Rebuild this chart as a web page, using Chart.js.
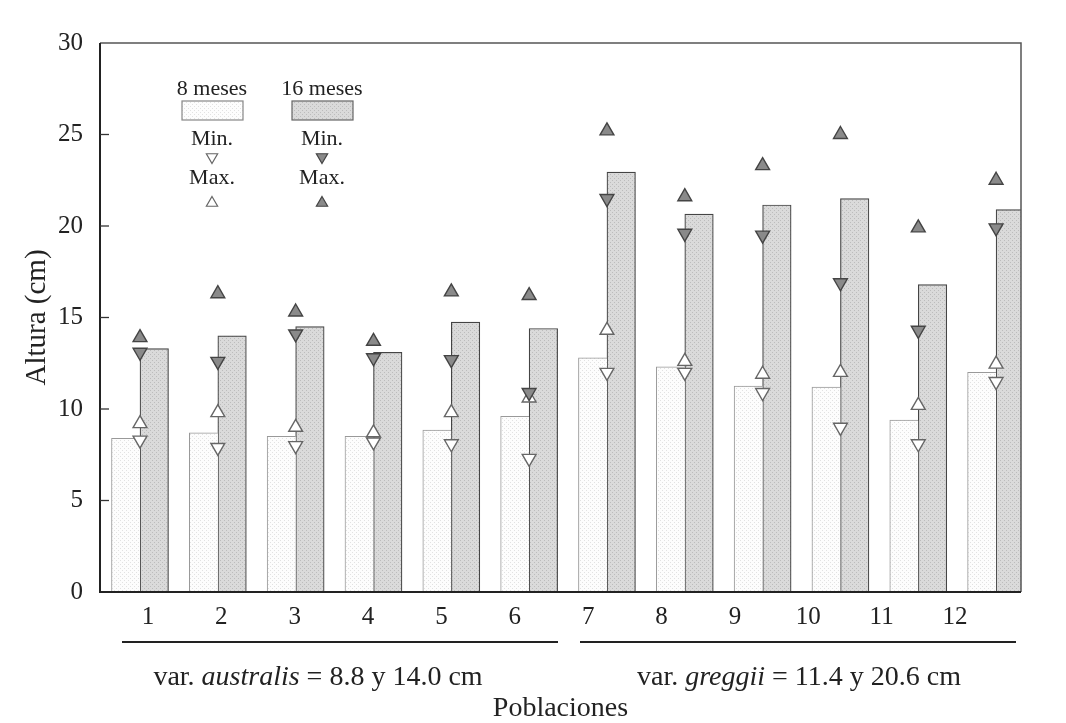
<!DOCTYPE html>
<html>
<head>
<meta charset="utf-8">
<script src="https://cdn.jsdelivr.net/npm/chart.js@4"></script>
<style>
  html, body { margin: 0; padding: 0; background: #fff; }
  canvas { display: block; }
</style>
</head>
<body>
<canvas id="chart" width="1066" height="723"></canvas>
<script>
// poblaciones 1..12
const categories = ["1", "2", "3", "4", "5", "6", "7", "8", "9", "10", "11", "12"];

// altura media (cm)
const mean8 = [8.4, 8.7, 8.5, 8.5, 8.85, 9.6, 12.8, 12.3, 11.25, 11.2, 9.4, 12.0];
const mean16 = [13.3, 14.0, 14.5, 13.1, 14.75, 14.4, 22.95, 20.65, 21.15, 21.5, 16.8, 20.9];

// minimos y maximos
const min8 = [8.3, 7.9, 8.0, 8.2, 8.1, 7.3, 12.0, 12.0, 10.9, 9.0, 8.1, 11.5];
const max8 = [9.2, 9.8, 9.0, 8.7, 9.8, 10.6, 14.3, 12.6, 11.9, 12.0, 10.2, 12.45];
const min16 = [13.1, 12.6, 14.1, 12.8, 12.7, 10.9, 21.5, 19.6, 19.5, 16.9, 14.3, 19.9];
const max16 = [13.9, 16.3, 15.3, 13.7, 16.4, 16.2, 25.2, 21.6, 23.3, 25.0, 19.9, 22.5];

const yTicks = [0, 5, 10, 15, 20, 25, 30];

const SERIF = "'Liberation Serif', 'Times New Roman', serif";
Chart.defaults.font.family = SERIF;
Chart.defaults.color = "#222";

// stippled fills like the printed bars
function dots(base, dot) {
    const c = document.createElement("canvas");
    c.width = 4;
    c.height = 4;
    const g = c.getContext("2d");
    g.fillStyle = base;
    g.fillRect(0, 0, 4, 4);
    g.fillStyle = dot;
    g.fillRect(0, 0, 1, 1);
    g.fillRect(2, 2, 1, 1);
    return g.createPattern(c, "repeat");
}
const fillWhite = dots("#fdfdfd", "#e2e2e2");
const fillGray = dots("#dadada", "#bcbcbc");

const xy = (arr) => arr.map((v, i) => ({ x: i + 1, y: v }));

function marker(label, arr, fill, border, down) {
    return {
        type: "line",
        label: label,
        data: xy(arr),
        showLine: false,
        order: 0,
        pointStyle: "triangle",
        pointRadius: 8,
        pointRotation: down ? 180 : 0,
        pointBackgroundColor: fill,
        pointBorderColor: border,
        pointBorderWidth: 1.4,
    };
}

function tri(ctx, x, y, r, down, fill, stroke) {
    const s = down ? -1 : 1;
    ctx.beginPath();
    ctx.moveTo(x, y - s * r);
    ctx.lineTo(x + r * 0.866, y + s * r * 0.5);
    ctx.lineTo(x - r * 0.866, y + s * r * 0.5);
    ctx.closePath();
    ctx.fillStyle = fill;
    ctx.fill();
    ctx.strokeStyle = stroke;
    ctx.lineWidth = 1.2;
    ctx.stroke();
}

function richText(ctx, parts, cx, cy, size) {
    const fonts = parts.map((p) => (p.it ? "italic " : "") + size + "px " + SERIF);
    let w = 0;
    parts.forEach((p, i) => {
        ctx.font = fonts[i];
        w += ctx.measureText(p.t).width;
    });
    let x = cx - w / 2;
    ctx.textAlign = "left";
    ctx.textBaseline = "middle";
    parts.forEach((p, i) => {
        ctx.font = fonts[i];
        ctx.fillText(p.t, x, cy);
        x += ctx.measureText(p.t).width;
    });
}

const decor = {
    id: "decor",
    afterDraw(chart) {
        const { ctx, chartArea: a, scales } = chart;
        const y = scales.y;
        ctx.save();

        // frame
        ctx.strokeStyle = "#555";
        ctx.lineWidth = 1.5;
        ctx.beginPath();
        ctx.moveTo(a.left, a.top);
        ctx.lineTo(a.right, a.top);
        ctx.lineTo(a.right, a.bottom);
        ctx.stroke();

        ctx.strokeStyle = "#222";
        ctx.lineWidth = 2;
        ctx.beginPath();
        ctx.moveTo(a.left, a.top);
        ctx.lineTo(a.left, a.bottom);
        ctx.lineTo(a.right, a.bottom);
        ctx.stroke();

        // inner ticks
        ctx.lineWidth = 1.3;
        ctx.strokeStyle = "#333";
        y.ticks.forEach((t) => {
            if (t.value <= 0 || t.value >= 30) return;
            const py = y.getPixelForValue(t.value);
            ctx.beginPath();
            ctx.moveTo(a.left, py);
            ctx.lineTo(a.left + 9, py);
            ctx.stroke();
        });

        // legend
        const cols = [
            { cx: 212, name: "8 meses", fill: fillWhite, box: "#888", tf: "#fff", ts: "#666" },
            { cx: 322, name: "16 meses", fill: fillGray, box: "#666", tf: "#8a8a8a", ts: "#444" },
        ];
        cols.forEach((c) => {
            ctx.font = "22px " + SERIF;
            ctx.textAlign = "center";
            ctx.textBaseline = "middle";
            ctx.fillStyle = "#222";
            ctx.fillText(c.name, c.cx, 89);
            ctx.fillText("Min.", c.cx, 139);
            ctx.fillText("Max.", c.cx, 178);
            ctx.fillStyle = c.fill;
            ctx.fillRect(c.cx - 30, 101, 61, 19);
            ctx.strokeStyle = c.box;
            ctx.lineWidth = 1.2;
            ctx.strokeRect(c.cx - 30, 101, 61, 19);
            tri(ctx, c.cx, 157, 6.5, true, c.tf, c.ts);
            tri(ctx, c.cx, 203, 6.5, false, c.tf, c.ts);
        });

        // variety groups under the axis
        ctx.strokeStyle = "#222";
        ctx.lineWidth = 2;
        ctx.beginPath();
        ctx.moveTo(122, 642);
        ctx.lineTo(558, 642);
        ctx.moveTo(580, 642);
        ctx.lineTo(1016, 642);
        ctx.stroke();

        ctx.fillStyle = "#222";
        richText(ctx, [{ t: "var. " }, { t: "australis", it: true }, { t: " = 8.8 y 14.0 cm" }], 318, 678, 28);
        richText(ctx, [{ t: "var. " }, { t: "greggii", it: true }, { t: " = 11.4 y 20.6 cm" }], 799, 678, 28);

        ctx.restore();
    },
};

new Chart(document.getElementById("chart"), {
    type: "bar",
    data: {
        datasets: [
            marker("Max. 16 meses", max16, "#8a8a8a", "#444", false),
            marker("Min. 16 meses", min16, "#8a8a8a", "#444", true),
            marker("Max. 8 meses", max8, "#fff", "#666", false),
            marker("Min. 8 meses", min8, "#fff", "#666", true),
            {
                label: "8 meses",
                data: xy(mean8),
                order: 1,
                backgroundColor: fillWhite,
                borderColor: "#999",
                borderWidth: { top: 1, left: 1, right: 0, bottom: 0 },
                borderSkipped: false,
                barThickness: 28.5,
            },
            {
                label: "16 meses",
                data: xy(mean16),
                order: 1,
                backgroundColor: fillGray,
                borderColor: "#444",
                borderWidth: 1.2,
                borderSkipped: "bottom",
                barThickness: 28.5,
            },
        ],
    },
    options: {
        responsive: false,
        animation: false,
        events: [],
        devicePixelRatio: 1,
        layout: { padding: { top: 43, right: 45, left: 0, bottom: 0 } },
        plugins: {
            legend: { display: false },
            tooltip: { enabled: false },
        },
        scales: {
            x: {
                type: "linear",
                display: false,
                offset: false,
                min: 0.486,
                max: 12.32,
                ticks: { stepSize: 1, includeBounds: false },
            },
            xl: {
                type: "linear",
                position: "bottom",
                offset: false,
                min: 0.346,
                max: 12.9,
                grid: { display: false, drawTicks: false, offset: false },
                border: { display: false },
                ticks: {
                    stepSize: 1,
                    includeBounds: false,
                    autoSkip: false,
                    maxRotation: 0,
                    padding: 10,
                    font: { size: 25 },
                    color: "#222",
                    callback: (v) => categories[v - 1] || "",
                },
                title: {
                    display: true,
                    text: "Poblaciones",
                    font: { size: 28, lineHeight: 1.0 },
                    color: "#222",
                    padding: { top: 0, bottom: 0 },
                },
                afterFit: (s) => { s.height = 131; },
            },
            y: {
                min: 0,
                max: 30,
                afterBuildTicks: (s) => { s.ticks = yTicks.map((v) => ({ value: v })); },
                grid: { display: false, drawTicks: false },
                border: { display: false },
                ticks: { padding: 17, font: { size: 25 }, color: "#222" },
                title: {
                    display: true,
                    text: "Altura (cm)",
                    font: { size: 29 },
                    color: "#222",
                    padding: { top: 20, bottom: 0 },
                },
                afterFit: (s) => { s.width = 100; },
            },
        },
    },
    plugins: [decor],
});
</script>
</body>
</html>
